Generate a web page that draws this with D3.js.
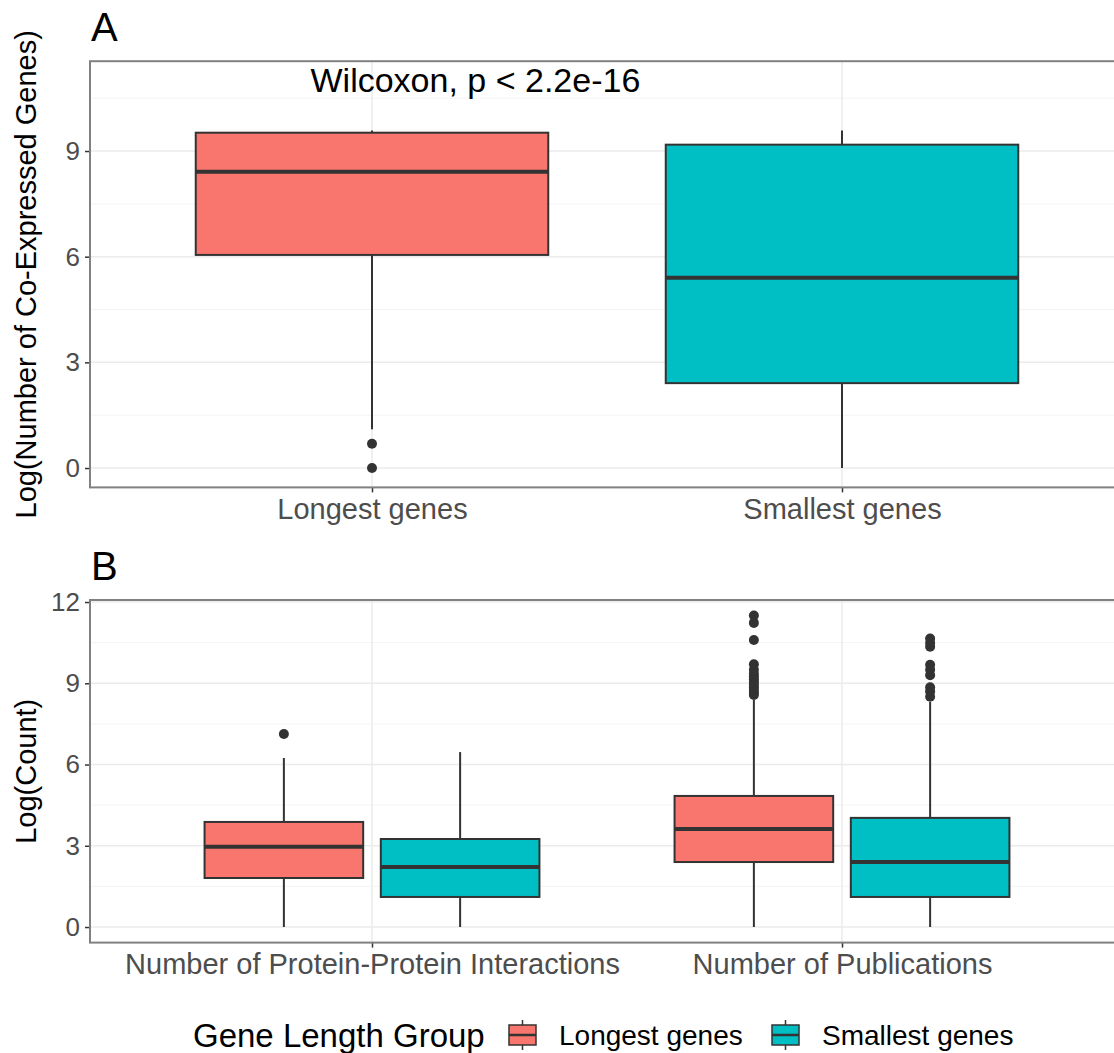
<!DOCTYPE html>
<html>
<head>
<meta charset="utf-8">
<script src="https://cdn.jsdelivr.net/npm/d3@7"></script>
<style>
  body { margin: 0; background: #fff; }
  svg { font-family: "Liberation Sans", Arial, sans-serif; }
</style>
</head>
<body>
<svg id="chart"></svg>
<script>
// Groups and categories
const groups = ["Longest genes", "Smallest genes"];
const metrics = ["Number of Protein-Protein Interactions", "Number of Publications"];
const colors = ["#F8766D", "#00BFC4"];

// Panel A: [lower whisker, q1, median, q3, upper whisker]
const coexpLongest = [1.1, 6.05, 8.41, 9.52, 9.58];
const coexpLongestOut = [0.69, 0];
const coexpSmallest = [0, 2.41, 5.40, 9.18, 9.58];
const coexpSmallestOut = [];

// Panel B: [lower whisker, q1, median, q3, upper whisker]
const ppiLongest = [0, 1.81, 2.96, 3.88, 6.24];
const ppiLongestOut = [7.13];
const ppiSmallest = [0, 1.11, 2.22, 3.25, 6.46];
const ppiSmallestOut = [];
const pubLongest = [0, 2.40, 3.62, 4.84, 8.39];
const pubLongestOut = [8.57, 8.65, 8.75, 8.85, 8.95, 9.05, 9.15, 9.25, 9.35, 9.5, 9.7, 10.6, 11.23, 11.5];
const pubSmallest = [0, 1.11, 2.40, 4.03, 8.31];
const pubSmallestOut = [8.5, 8.7, 8.85, 9.3, 9.5, 9.68, 10.35, 10.49, 10.65];

const ticksA = [0, 3, 6, 9];
const ticksB = [0, 3, 6, 9, 12];
const minorA = [1.5, 4.5, 7.5, 10.5];
const minorB = [1.5, 4.5, 7.5, 10.5];
const pLabel = "Wilcoxon, p < 2.2e-16";

const W = 1114, H = 1053;
const svg = d3.select("#chart").attr("width", W).attr("height", H);

const left = 90, right = 1124;
const x = d3.scaleLinear().domain([0.4, 2.6]).range([left, right]);

const yA = d3.scaleLinear().domain([-0.55, 11.55]).range([487.4, 61.2]);
const yB = d3.scaleLinear().domain([-0.575, 12.075]).range([942.6, 600]);

function panel(y, ticks, minor, catLabels, yTitle, tag) {
  const [y0, y1] = y.range();
  const g = svg.append("g");
  g.append("rect").attr("x", left).attr("y", y1).attr("width", right - left).attr("height", y0 - y1).attr("fill", "#fff");
  // minor grid
  g.selectAll(".mn").data(minor).enter().append("line")
    .attr("x1", left).attr("x2", right).attr("y1", d => y(d)).attr("y2", d => y(d))
    .attr("stroke", "#F4F4F4").attr("stroke-width", 1);
  // major grid
  g.selectAll(".mj").data(ticks).enter().append("line")
    .attr("x1", left).attr("x2", right).attr("y1", d => y(d)).attr("y2", d => y(d))
    .attr("stroke", "#EBEBEB").attr("stroke-width", 1.5);
  g.selectAll(".vx").data([1, 2]).enter().append("line")
    .attr("x1", d => x(d)).attr("x2", d => x(d)).attr("y1", y0).attr("y2", y1)
    .attr("stroke", "#EBEBEB").attr("stroke-width", 1.5);

  // y axis
  const ya = svg.append("g").attr("transform", `translate(${left},0)`)
    .call(d3.axisLeft(y).tickValues(ticks).tickSize(5).tickPadding(5));
  ya.select(".domain").remove();
  ya.selectAll(".tick line").attr("stroke", "#333").attr("stroke-width", 1.5);
  ya.selectAll(".tick text").attr("fill", "#4D4D4D").style("font-size", "26px")
    .style("font-family", "Liberation Sans, Arial, sans-serif");

  // x axis
  const xa = svg.append("g").attr("transform", `translate(0,${y0})`)
    .call(d3.axisBottom(x).tickValues([1, 2]).tickFormat((d, i) => catLabels[i]).tickSize(5).tickPadding(6));
  xa.select(".domain").remove();
  xa.selectAll(".tick line").attr("stroke", "#333").attr("stroke-width", 1.5);
  xa.selectAll(".tick text").attr("fill", "#4D4D4D").style("font-size", "29px")
    .style("font-family", "Liberation Sans, Arial, sans-serif");

  // y title
  svg.append("text")
    .attr("transform", `translate(36,${(y0 + y1) / 2}) rotate(-90)`)
    .attr("text-anchor", "middle").style("font-size", "29px").attr("fill", "#000")
    .text(yTitle);

  // tag
  svg.append("text").attr("x", 91).attr("y", y1 - 20).style("font-size", "40px").text(tag);
  return g;
}

function drawBox(g, y, stats, outs, cx, w, color) {
  const [lo, q1, med, q3, hi] = stats;
  const bx = g.append("g");
  bx.append("line").attr("x1", x(cx)).attr("x2", x(cx)).attr("y1", y(hi)).attr("y2", y(q3))
    .attr("stroke", "#333").attr("stroke-width", 2);
  bx.append("line").attr("x1", x(cx)).attr("x2", x(cx)).attr("y1", y(q1)).attr("y2", y(lo))
    .attr("stroke", "#333").attr("stroke-width", 2);
  bx.append("rect").attr("x", x(cx - w / 2)).attr("y", y(q3))
    .attr("width", x(cx + w / 2) - x(cx - w / 2)).attr("height", y(q1) - y(q3))
    .attr("fill", color).attr("stroke", "#333").attr("stroke-width", 2);
  bx.append("line").attr("x1", x(cx - w / 2)).attr("x2", x(cx + w / 2)).attr("y1", y(med)).attr("y2", y(med))
    .attr("stroke", "#333").attr("stroke-width", 4);
  bx.selectAll("circle").data(outs).enter().append("circle")
    .attr("cx", x(cx)).attr("cy", d => y(d)).attr("r", 5).attr("fill", "#333");
}

// Panel A
const gA = panel(yA, ticksA, minorA, groups, "Log(Number of Co-Expressed Genes)", "A");
drawBox(gA, yA, coexpLongest, coexpLongestOut, 1, 0.75, colors[0]);
drawBox(gA, yA, coexpSmallest, coexpSmallestOut, 2, 0.75, colors[1]);
gA.append("text").attr("x", x(1.22)).attr("y", yA(11)).attr("dy", "0.35em")
  .attr("text-anchor", "middle").style("font-size", "34px").text(pLabel);

// Panel B
const gB = panel(yB, ticksB, minorB, metrics, "Log(Count)", "B");
const dodge = 0.1875, bw = 0.3375;
drawBox(gB, yB, ppiLongest, ppiLongestOut, 1 - dodge, bw, colors[0]);
drawBox(gB, yB, ppiSmallest, ppiSmallestOut, 1 + dodge, bw, colors[1]);
drawBox(gB, yB, pubLongest, pubLongestOut, 2 - dodge, bw, colors[0]);
drawBox(gB, yB, pubSmallest, pubSmallestOut, 2 + dodge, bw, colors[1]);

// panel borders
[yA, yB].forEach(y => {
  const [y0, y1] = y.range();
  svg.append("rect").attr("x", left).attr("y", y1).attr("width", right - left).attr("height", y0 - y1)
    .attr("fill", "none").attr("stroke", "#808080").attr("stroke-width", 2);
});

// Legend
const lg = svg.append("g").attr("transform", "translate(0,1035)");
lg.append("text").attr("x", 193).attr("dy", "0.35em").style("font-size", "33px").text("Gene Length Group");
const keyX = [509, 772];
groups.forEach((grp, i) => {
  const k = lg.append("g").attr("transform", `translate(${keyX[i]},0)`);
  k.append("line").attr("x1", 13.5).attr("x2", 13.5).attr("y1", -15).attr("y2", 15).attr("stroke", "#333").attr("stroke-width", 1.5);
  k.append("rect").attr("x", 0).attr("y", -10).attr("width", 27).attr("height", 20)
    .attr("fill", colors[i]).attr("stroke", "#333").attr("stroke-width", 1.5);
  k.append("line").attr("x1", 0).attr("x2", 27).attr("y1", 0).attr("y2", 0).attr("stroke", "#333").attr("stroke-width", 2.5);
  lg.append("text").attr("x", keyX[i] + 50).attr("dy", "0.35em").style("font-size", "28px").text(grp);
});
</script>
</body>
</html>
